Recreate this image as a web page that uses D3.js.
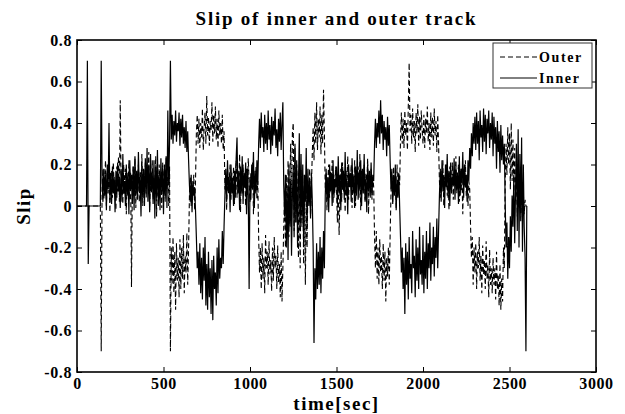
<!DOCTYPE html>
<html>
<head>
<meta charset="utf-8">
<script src="https://cdn.jsdelivr.net/npm/d3@7"></script>
<style>
  body { margin: 0; background: #fff; }
  text { font-family: "Liberation Serif", "Times New Roman", serif; font-weight: bold; fill: #000; }
</style>
</head>
<body>
<div id="container"></div>
<script>
/* CONSTANTS AND GLOBALS */
const width = 625,
  height = 414,
  margin = { top: 40, bottom: 42, left: 77, right: 29 }

/* DATA */
// one sample every 5 sec, starting at t = 0
const timeStep = 5

const outerSlip = [
  0,0,0,0,0,0,0,0,0,0,0,0,0,0,0,0,0,0,0,0,
  0,0,0,0,0,0,0,0,-0.7,0.08,0.18,0.03,0.14,0.22,0.0,0.16,0.06,0.2,-0.03,0.12,
  0.17,0.04,0.21,0.09,0.13,-0.02,0.19,0.07,0.24,0.02,0.51,0.1,0.15,0.01,0.2,0.06,0.18,-0.04,0.14,0.08,
  0.22,0.03,0.16,-0.39,0.12,0.19,0.05,0.23,-0.01,0.15,0.08,0.2,0.02,0.17,0.1,0.25,0.0,0.13,0.07,0.21,
  0.04,0.18,0.11,0.26,-0.02,0.16,0.06,0.22,0.03,0.14,0.09,0.24,-0.05,0.17,0.05,0.2,0.1,0.15,-0.01,0.21,
  0.06,0.17,0.02,0.23,0.08,0.14,0.0,0.19,-0.7,-0.2,-0.38,-0.15,-0.42,-0.22,-0.5,-0.18,-0.36,-0.25,-0.44,-0.16,
  -0.4,-0.2,-0.35,-0.14,-0.42,-0.24,-0.32,-0.13,-0.38,-0.2,0.05,0.14,0.0,0.1,0.08,0.15,-0.02,0.12,0.35,0.44,
  0.3,0.42,0.28,0.4,0.33,0.47,0.27,0.38,0.45,0.3,0.53,0.34,0.43,0.29,0.41,0.36,0.5,0.31,0.44,0.35,
  0.48,0.32,0.42,0.28,0.46,0.34,0.4,0.3,0.44,0.27,0.36,0.08,0.15,-0.02,0.18,0.06,0.12,0.2,0.03,0.16,
  0.07,0.19,0.01,0.14,0.22,0.04,0.17,0.1,0.25,-0.03,0.15,0.06,0.2,0.09,0.13,0.0,0.18,0.05,0.23,0.11,
  0.02,0.16,0.08,0.21,-0.04,0.14,0.1,0.19,0.03,0.12,-0.15,-0.32,-0.2,-0.4,-0.18,-0.35,-0.25,-0.42,-0.14,-0.3,
  -0.22,-0.38,-0.17,-0.33,-0.26,-0.41,-0.2,-0.36,-0.15,-0.3,-0.24,-0.4,-0.19,-0.37,-0.28,-0.44,-0.22,-0.46,-0.3,-0.1,
  0.05,-0.2,0.15,-0.1,0.22,-0.15,0.1,0.3,-0.05,0.35,0.4,-0.12,0.28,-0.08,0.2,0.05,-0.25,0.12,-0.3,0.18,
  -0.1,0.15,-0.28,0.1,-0.38,0.05,-0.2,0.12,0.02,0.18,-0.05,0.1,0.25,0.38,0.22,0.45,0.3,0.5,0.27,0.42,
  0.33,0.48,0.25,0.44,0.3,0.56,0.35,0.08,0.16,-0.02,0.13,0.2,0.04,0.17,0.09,0.22,0.01,0.15,0.06,0.19,
  0.1,-0.08,0.14,-0.14,0.05,0.18,0.02,0.21,0.07,0.13,-0.03,0.17,0.09,0.24,0.03,0.15,0.11,0.2,-0.01,0.16,
  0.06,0.22,0.0,0.14,0.1,0.19,0.04,0.25,-0.02,0.17,0.08,0.13,0.2,0.03,0.16,0.1,0.23,-0.04,0.15,0.07,
  0.18,0.03,0.14,0.09,-0.15,-0.3,-0.12,-0.35,-0.2,-0.38,-0.16,-0.32,-0.24,-0.4,-0.18,-0.36,-0.22,-0.46,-0.25,-0.34,
  -0.2,-0.38,-0.14,0.06,0.15,0.02,0.19,0.08,0.13,-0.01,0.2,0.05,0.16,0.1,0.32,0.45,0.3,0.42,0.28,0.46,
  0.34,0.4,0.27,0.48,0.69,0.36,0.44,0.3,0.47,0.33,0.41,0.26,0.45,0.35,0.49,0.29,0.43,0.32,0.46,0.37,
  0.3,0.44,0.28,0.42,0.35,0.48,0.31,0.4,0.27,0.45,0.33,0.43,0.29,0.47,0.34,0.41,0.26,0.44,0.3,0.12,
  0.04,0.17,0.09,0.22,0.0,0.14,0.11,0.2,0.05,0.16,-0.02,0.19,0.08,0.13,0.21,0.03,0.15,0.1,0.24,0.06,
  0.13,0.2,0.02,0.17,0.07,0.14,-0.04,0.18,0.1,0.22,0.05,0.15,0.0,0.12,0.08,-0.1,-0.25,-0.15,-0.38,-0.2,
  -0.32,-0.18,-0.4,-0.22,-0.3,-0.15,-0.36,-0.24,-0.42,-0.19,-0.33,-0.26,-0.4,-0.17,-0.35,-0.28,-0.44,-0.21,-0.38,-0.3,
  -0.42,-0.25,-0.38,-0.3,-0.45,-0.22,-0.4,-0.33,-0.48,-0.28,-0.5,-0.35,-0.46,-0.2,-0.3,0.1,0.3,0.15,0.38,0.2,
  0.35,0.08,0.4,0.12,0.32,0.07,0.28,0.05,0.15,-0.05,0.1,0.0,0.08,-0.08,0.05,0.02,0.06,-0.04,0.03,0.0,
  0
]

const innerSlip = [
  0,0,0,0,0,0,0,0,0,0,0,0,0.7,-0.28,0,0,0,0,0,0,
  0,0,0,0,0,0,0,0,0.7,0.12,0.02,0.18,0.05,0.15,-0.02,0.2,0.08,0.4,0.03,0.16,
  0.01,0.19,0.06,0.14,-0.03,0.17,0.04,0.21,0.07,0.13,-0.01,0.18,0.02,0.25,0.06,0.12,0.0,0.2,0.05,0.16,
  -0.04,0.22,0.08,0.15,0.01,0.19,-0.02,0.24,0.05,0.17,0.03,0.26,0.07,0.14,-0.05,0.21,0.04,0.18,0.0,0.23,
  0.06,0.28,0.02,0.2,-0.03,0.25,0.08,0.16,0.01,0.22,-0.06,0.19,0.04,0.27,0.0,0.15,-0.02,0.23,0.07,0.18,
  -0.04,0.2,0.05,0.24,-0.01,0.46,0.1,0.3,0.7,0.32,0.44,0.3,0.41,0.34,0.46,0.31,0.4,0.36,0.45,0.29,
  0.42,0.33,0.44,0.3,0.38,0.28,0.41,0.26,0.36,0.22,0.1,0.02,0.15,-0.03,0.12,0.05,0.09,-0.02,-0.15,-0.3,
  -0.22,-0.38,-0.18,-0.42,-0.25,-0.45,-0.2,-0.36,-0.15,-0.48,-0.28,-0.5,-0.22,-0.44,-0.3,-0.52,-0.26,-0.55,-0.24,-0.4,
  -0.32,-0.48,-0.2,-0.42,-0.16,-0.35,-0.25,-0.3,-0.12,-0.28,-0.1,0.05,0.18,0.02,0.22,0.08,0.14,-0.03,0.2,0.06,
  0.12,0.0,0.17,0.04,0.23,0.33,0.06,0.15,-0.02,0.19,0.07,0.24,0.01,0.16,0.09,0.21,-0.04,0.18,0.05,-0.4,
  0.14,0.03,0.2,0.08,0.26,-0.01,0.17,0.06,0.22,0.1,0.3,0.42,0.28,0.45,0.33,0.38,0.26,0.44,0.3,0.4,
  0.27,0.46,0.32,0.39,0.25,0.43,0.29,0.41,0.34,0.47,0.28,0.37,0.24,0.42,0.31,0.45,0.27,0.4,0.5,0.1,
  -0.05,0.15,-0.2,0.08,-0.26,0.2,-0.1,0.12,-0.24,0.05,0.18,-0.15,0.3,-0.08,0.22,-0.2,0.1,0.35,-0.12,0.25,
  -0.05,0.2,-0.18,0.15,0.02,0.28,-0.1,0.18,0.0,0.12,-0.06,0.16,0.03,-0.2,-0.66,-0.3,-0.45,-0.18,-0.4,-0.22,
  -0.38,-0.15,-0.42,-0.2,-0.35,-0.12,-0.3,0.05,0.18,0.02,0.14,-0.03,0.2,0.07,0.16,0.0,0.22,0.04,0.13,0.09,
  0.19,0.01,0.24,0.06,0.15,-0.02,0.21,0.08,0.17,0.03,0.26,0.05,0.12,-0.04,0.2,0.09,0.16,0.02,0.23,0.07,
  0.14,-0.01,0.19,0.05,0.27,0.03,0.16,0.08,0.22,0.0,0.18,0.06,0.25,0.02,0.13,-0.03,0.2,0.07,0.17,0.04,
  0.21,0.05,0.15,0.12,0.3,0.42,0.28,0.4,0.33,0.46,0.3,0.51,0.35,0.44,0.27,0.41,0.32,0.38,0.24,0.43,
  0.29,0.39,0.22,0.08,0.18,0.01,0.15,0.05,0.2,-0.02,0.12,0.04,0.16,0.0,-0.15,-0.32,-0.2,-0.4,-0.25,-0.52,
  -0.18,-0.38,-0.22,-0.45,-0.15,-0.35,-0.28,-0.42,-0.12,-0.3,-0.24,-0.44,-0.16,-0.36,-0.2,-0.4,-0.1,-0.33,-0.26,-0.38,
  -0.14,-0.42,-0.22,-0.35,-0.12,-0.4,-0.18,-0.3,-0.08,-0.36,-0.2,-0.28,-0.1,-0.34,-0.15,-0.25,-0.06,-0.3,-0.12,0.05,
  0.18,0.02,0.22,0.07,0.15,-0.01,0.2,0.09,0.25,0.04,0.17,0.0,0.21,0.06,0.14,0.1,0.23,0.03,0.19,0.08,
  0.16,0.01,0.24,0.05,0.18,0.11,0.26,0.04,0.2,0.09,0.15,0.02,0.22,0.12,0.28,0.18,0.35,0.24,0.4,0.3,
  0.43,0.27,0.45,0.3,0.41,0.22,0.46,0.33,0.39,0.26,0.47,0.31,0.44,0.25,0.42,0.35,0.46,0.28,0.4,0.32,
  0.45,0.24,0.43,0.3,0.38,0.18,0.41,0.26,0.36,0.16,0.39,0.22,0.34,0.2,0.3,0.02,-0.2,-0.08,-0.35,-0.15,
  -0.3,-0.05,-0.22,0.05,-0.1,0.15,-0.18,0.08,0.3,-0.12,0.37,-0.2,0.25,-0.05,0.33,-0.22,0.2,-0.1,-0.25,-0.7,
  0
]

const xTicks = [0, 500, 1000, 1500, 2000, 2500, 3000]
const yTicks = [-0.8, -0.6, -0.4, -0.2, 0, 0.2, 0.4, 0.6, 0.8]
const legendNames = ['Outer', 'Inner']

/* SCALES */
const xScale = d3.scaleLinear()
  .domain([0, 3000])
  .range([margin.left, width - margin.right])

const yScale = d3.scaleLinear()
  .domain([-0.8, 0.8])
  .range([height - margin.bottom, margin.top])

const fmtY = d => d === 0 ? '0' : d.toFixed(1)
const fmtX = d => String(d)

/* SVG */
const svg = d3.select('#container')
  .append('svg')
  .attr('width', width)
  .attr('height', height)

// + LINES (outer first, inner on top)
const line = d3.line()
  .x((d, i) => xScale(i * timeStep))
  .y(d => yScale(d))

svg.append('path')
  .datum(outerSlip)
  .attr('fill', 'none')
  .attr('stroke', '#000')
  .attr('stroke-width', 1.1)
  .attr('stroke-dasharray', '5,3')
  .attr('d', line)

svg.append('path')
  .datum(innerSlip)
  .attr('fill', 'none')
  .attr('stroke', '#000')
  .attr('stroke-width', 1.2)
  .attr('d', line)

// + AXES (ticks point inward, like matlab)
svg.append('g')
  .attr('transform', `translate(0, ${height - margin.bottom})`)
  .call(d3.axisBottom(xScale).tickValues(xTicks).tickSize(-5).tickSizeOuter(0).tickPadding(6).tickFormat(fmtX))

svg.append('g')
  .attr('transform', `translate(0, ${margin.top})`)
  .call(d3.axisTop(xScale).tickValues(xTicks).tickSize(-5).tickSizeOuter(0).tickFormat(''))

svg.append('g')
  .attr('transform', `translate(${margin.left}, 0)`)
  .call(d3.axisLeft(yScale).tickValues(yTicks).tickSize(-5).tickSizeOuter(0).tickPadding(5).tickFormat(fmtY))

svg.append('g')
  .attr('transform', `translate(${width - margin.right}, 0)`)
  .call(d3.axisRight(yScale).tickValues(yTicks).tickSize(-5).tickSizeOuter(0).tickFormat(''))

svg.selectAll('.domain').remove()
svg.selectAll('.tick line').attr('stroke', '#000')
svg.selectAll('.tick text')
  .attr('font-size', 16)
  .attr('font-family', '"Liberation Serif", serif')
  .attr('font-weight', 'bold')
  .attr('letter-spacing', 0.6)

// frame
svg.append('rect')
  .attr('x', margin.left)
  .attr('y', margin.top)
  .attr('width', width - margin.left - margin.right)
  .attr('height', height - margin.top - margin.bottom)
  .attr('fill', 'none')
  .attr('stroke', '#000')
  .attr('stroke-width', 1.6)

// + TITLE AND LABELS
svg.append('text')
  .attr('x', (margin.left + width - margin.right) / 2)
  .attr('y', 25)
  .attr('text-anchor', 'middle')
  .attr('font-size', 19)
  .attr('letter-spacing', 1.75)
  .text('Slip of inner and outer track')

svg.append('text')
  .attr('x', (margin.left + width - margin.right) / 2)
  .attr('y', 410)
  .attr('text-anchor', 'middle')
  .attr('font-size', 19)
  .attr('letter-spacing', 1.5)
  .text('time[sec]')

svg.append('text')
  .attr('transform', `translate(30, ${yScale(0)}) rotate(-90)`)
  .attr('text-anchor', 'middle')
  .attr('font-size', 19)
  .attr('letter-spacing', 1.5)
  .text('Slip')

// + LEGEND
const legend = svg.append('g')

legend.append('rect')
  .attr('x', 493)
  .attr('y', 43)
  .attr('width', 99)
  .attr('height', 45)
  .attr('fill', '#fff')
  .attr('stroke', '#333')
  .attr('stroke-width', 1)

legendNames.forEach((name, i) => {
  const ly = 57 + i * 21
  legend.append('line')
    .attr('x1', 500)
    .attr('x2', 537)
    .attr('y1', ly)
    .attr('y2', ly)
    .attr('stroke', '#000')
    .attr('stroke-dasharray', i === 0 ? '5,3' : null)
  legend.append('text')
    .attr('x', 539)
    .attr('y', ly + 5)
    .attr('font-size', 14)
    .attr('letter-spacing', 1.6)
    .text(name)
})
</script>
</body>
</html>
